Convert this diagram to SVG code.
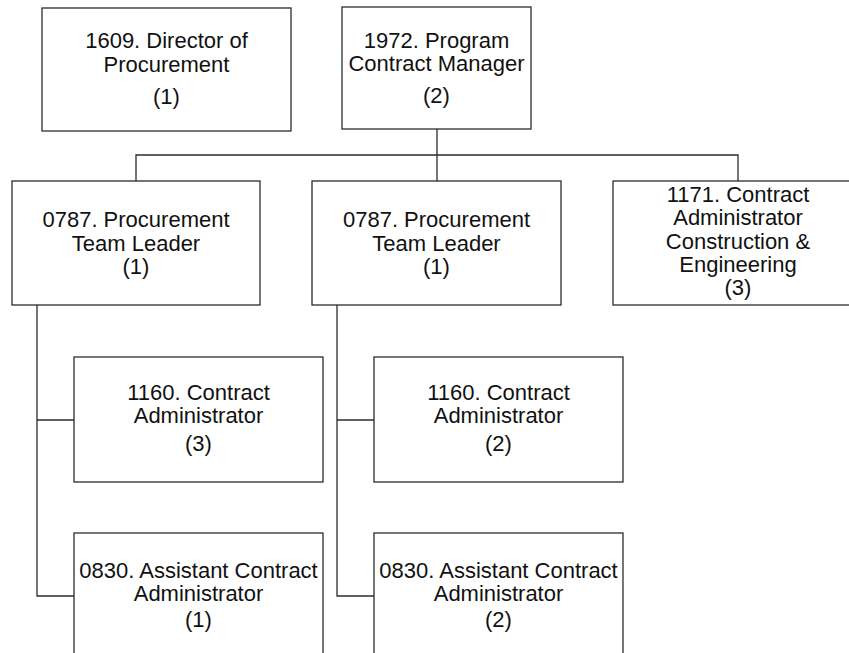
<svg xmlns="http://www.w3.org/2000/svg" width="849" height="653" viewBox="0 0 849 653">
  <style>
    .box { fill: #ffffff; stroke: #2b2b2b; stroke-width: 1.3; }
    .wire { fill: none; stroke: #2b2b2b; stroke-width: 1.3; }
    text { font-family: "Liberation Sans", Arial, sans-serif; font-size: 22px; fill: #111111; text-anchor: middle; }
  </style>
  <rect width="849" height="653" fill="#ffffff"/>

  <!-- reporting lines -->
  <g id="connectors">
    <path class="wire" d="M437 129 V181"/>
    <path class="wire" d="M136 181 V155 H738 V181"/>
    <path class="wire" d="M37 305 V596 H74"/>
    <path class="wire" d="M37 420 H74"/>
    <path class="wire" d="M337 305 V596 H374"/>
    <path class="wire" d="M337 420 H374"/>
  </g>

  <g id="director-procurement">
    <rect class="box" x="42" y="8" width="249" height="123"/>
    <text x="166.5" y="48">1609. Director of</text>
    <text x="166.5" y="71.5">Procurement</text>
    <text x="166.5" y="103.5">(1)</text>
  </g>

  <g id="program-contract-manager">
    <rect class="box" x="342" y="7" width="189" height="122"/>
    <text x="436.5" y="47.5">1972. Program</text>
    <text x="436.5" y="71">Contract Manager</text>
    <text x="436.5" y="103">(2)</text>
  </g>

  <g id="team-leader-a">
    <rect class="box" x="12" y="181" width="248" height="124"/>
    <text x="136" y="227">0787. Procurement</text>
    <text x="136" y="250.5">Team Leader</text>
    <text x="136" y="274">(1)</text>
  </g>

  <g id="team-leader-b">
    <rect class="box" x="312" y="181" width="249" height="124"/>
    <text x="436.5" y="227">0787. Procurement</text>
    <text x="436.5" y="250.5">Team Leader</text>
    <text x="436.5" y="274">(1)</text>
  </g>

  <g id="contract-admin-construction">
    <rect class="box" x="613" y="181" width="250" height="124"/>
    <text x="738" y="202">1171. Contract</text>
    <text x="738" y="225">Administrator</text>
    <text x="738" y="248.5">Construction &amp;</text>
    <text x="738" y="271.5">Engineering</text>
    <text x="738" y="295">(3)</text>
  </g>

  <g id="contract-admin-a">
    <rect class="box" x="74" y="357" width="249" height="125"/>
    <text x="198.5" y="400">1160. Contract</text>
    <text x="198.5" y="423">Administrator</text>
    <text x="198.5" y="451">(3)</text>
  </g>

  <g id="contract-admin-b">
    <rect class="box" x="374" y="357" width="249" height="125"/>
    <text x="498.5" y="400">1160. Contract</text>
    <text x="498.5" y="423">Administrator</text>
    <text x="498.5" y="451">(2)</text>
  </g>

  <g id="assistant-admin-a">
    <rect class="box" x="74" y="533" width="249" height="130"/>
    <text x="198.5" y="577.5">0830. Assistant Contract</text>
    <text x="198.5" y="601">Administrator</text>
    <text x="198.5" y="627">(1)</text>
  </g>

  <g id="assistant-admin-b">
    <rect class="box" x="374" y="533" width="249" height="130"/>
    <text x="498.5" y="577.5">0830. Assistant Contract</text>
    <text x="498.5" y="601">Administrator</text>
    <text x="498.5" y="627">(2)</text>
  </g>
</svg>
